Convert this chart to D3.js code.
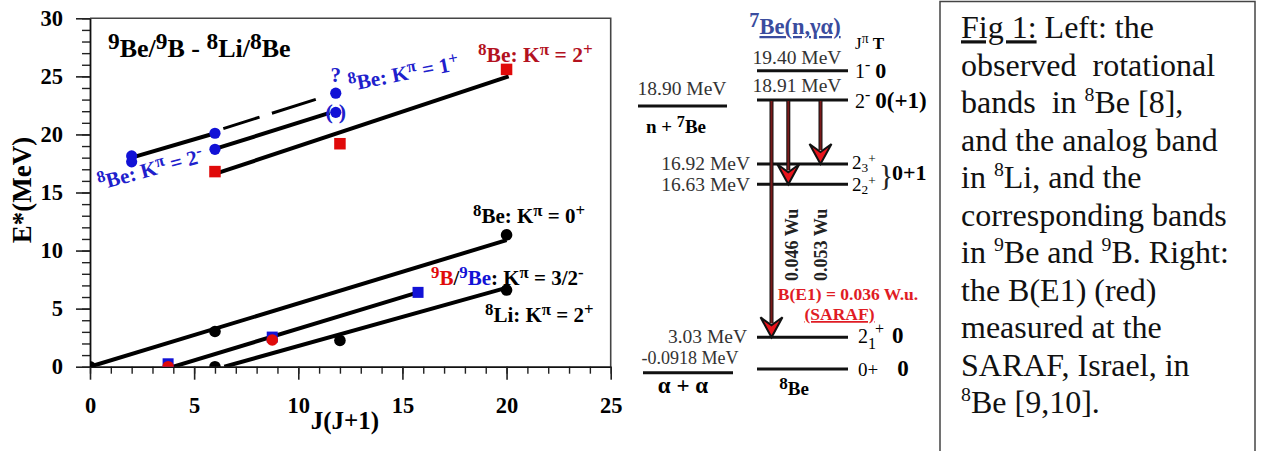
<!DOCTYPE html>
<html><head><meta charset="utf-8">
<script src="https://cdn.jsdelivr.net/npm/d3@7"></script>
<style>
body{margin:0;background:#fff;}
svg{display:block;}
text{font-family:"Liberation Serif","Times New Roman",serif;white-space:pre;}
</style></head><body>
<svg id="c" width="1261" height="451"></svg>
<script>
// ================= DATA =================
// Left panel: x = J(J+1), y = E* (MeV)
const xTicks = [0,5,10,15,20,25];
const yTicks = [0,5,10,15,20,25,30];
const be8K0Points = [[0,0],[6,3.03],[20,11.35]];
const be8K0Line   = [[0,0],[20,10.9]];
const li8K2Points = [[6,0],[12,2.26],[20,6.6]];
const li8K2Line   = [[6.45,0],[19.9,6.75]];
const be9Points   = [[3.75,0.25],[8.75,2.55],[15.75,6.4]];
const b9Points    = [[3.75,0],[8.75,2.3]];
const k32Line     = [[4.0,0],[15.75,6.4]];
const be8K2mPoints= [[2,18.15],[2,17.64],[6,20.1],[6,18.72]];
const k2mLine     = [[2,18.0],[6,20.1]];
const k1pDashed   = [[6.4,20.5],[10.9,23.05]];
const k1pLine     = [[6,18.75],[11.5,21.85]];
const k1pQuestion = [[11.8,23.55]];
const k1pParen    = [[11.8,21.9]];
const be8K2pPoints= [[6,16.8],[12,19.2],[20,25.6]];
const k2pLine     = [[6,16.6],[20.1,25.0]];

// Right panel: 8Be level scheme (MeV)
const levelEnergies = [19.40, 18.91, 16.92, 16.63, 3.03, 0];
const levelLabels   = ["19.40 MeV","18.91 MeV","16.92 MeV","16.63 MeV","3.03 MeV",""];
const thresholdEnergies = [18.90, -0.0918];
const thresholdLabels   = ["18.90 MeV","-0.0918 MeV"];
const transitionFrom = [18.91, 18.91, 18.91];
const transitionTo   = [3.03, 16.63, 16.92];
const strengthLabels = ["0.046 Wu","0.053 Wu"];
const be1Label = "B(E1) = 0.036 W.u.";

// ================= LAYOUT / STYLE =================
const BLUE = "#1212d6", BLUE_T = "#2020cc", RED = "#e00a0a", DRED = "#b3121f";
const svg = d3.select("#c");

function rich(parent, x, y, segs, o={}) {
  const base = o.fs || 20;
  const t = parent.append("text").attr("x",x).attr("y",y)
    .attr("font-size",base).attr("font-weight",o.fw||"normal").attr("fill",o.fill||"#000");
  if (o.anchor) t.attr("text-anchor",o.anchor);
  if (o.rot!=null) t.attr("transform",`rotate(${o.rot},${x},${y})`);
  let cur = 0;
  segs.forEach(s=>{
    if (typeof s === "string") s = {t:s};
    const fs = s.fs || ((s.sup||s.sub) ? base*(o.supScale||0.75) : base);
    const shift = s.sup ? -base*(o.supRaise||0.36) : s.sub ? base*(o.subDrop||0.25) : 0;
    const sp = t.append("tspan").text(s.t).attr("dy", shift-cur).attr("font-size",fs);
    if (s.dx!=null) sp.attr("dx",s.dx);
    if (s.fill) sp.attr("fill",s.fill);
    if (s.fw) sp.attr("font-weight",s.fw);
    if (s.u) sp.attr("text-decoration","underline");
    cur = shift;
  });
  return t;
}

// ---------- Left panel ----------
const x = d3.scaleLinear().domain([0,25]).range([90,610.7]);
const y = d3.scaleLinear().domain([0,30]).range([366.7,18.3]);

svg.append("path").attr("d",`M${x(0)},${y(30)}H${x(25)}V${y(0)}`)
  .attr("fill","none").attr("stroke","#444").attr("stroke-width",1.6);

svg.append("g").attr("transform",`translate(0,${y(0)})`)
  .call(d3.axisBottom(x).tickValues(d3.range(0,26)).tickSize(7).tickFormat("").tickSizeOuter(0))
  .call(g=>g.select(".domain").remove())
  .call(g=>g.selectAll("line").attr("stroke","#222").attr("stroke-width",1.4));
svg.append("g").attr("transform",`translate(${x(0)},0)`)
  .call(d3.axisLeft(y).tickValues(d3.range(0,31)).tickSize(8).tickFormat("").tickSizeOuter(0))
  .call(g=>g.select(".domain").remove())
  .call(g=>g.selectAll("line").attr("stroke","#222").attr("stroke-width",1.4));
const gx = svg.append("g").attr("transform",`translate(0,${y(0)})`)
  .call(d3.axisBottom(x).tickValues(xTicks).tickSize(13).tickPadding(17).tickSizeOuter(0));
const gy = svg.append("g").attr("transform",`translate(${x(0)},0)`)
  .call(d3.axisLeft(y).tickValues(yTicks).tickSize(14).tickPadding(13).tickSizeOuter(0));
[gx,gy].forEach(g=>{
  g.select(".domain").attr("stroke","#111").attr("stroke-width",1.8);
  g.selectAll("line").attr("stroke","#222").attr("stroke-width",1.6);
  g.selectAll("text").attr("font-family","Liberation Serif, serif").attr("font-size",22.5)
    .attr("font-weight","bold").attr("fill","#000");
});

svg.append("text").attr("x",345).attr("y",429).attr("text-anchor","middle")
  .attr("font-size",25).attr("font-weight","bold").text("J(J+1)");
svg.append("text").attr("transform","translate(31,190) rotate(-90)").attr("text-anchor","middle")
  .attr("font-size",27).attr("font-weight","bold").text("E*(MeV)");

svg.append("clipPath").attr("id","plotclip").append("rect")
  .attr("x",x(0)).attr("y",y(30)).attr("width",x(25)-x(0)).attr("height",y(0)-y(30));
const plot = svg.append("g").attr("clip-path","url(#plotclip)");

const line = d3.line().x(d=>x(d[0])).y(d=>y(d[1]));
[be8K0Line, li8K2Line, k32Line, k2mLine, k1pLine, k2pLine].forEach(l=>{
  plot.append("path").attr("d",line(l)).attr("fill","none").attr("stroke","#000")
    .attr("stroke-width",4);
});
plot.append("path").attr("d",line(k1pDashed)).attr("fill","none").attr("stroke","#000")
  .attr("stroke-width",3).attr("stroke-dasharray","38 13 46 200");

function circles(data, color, r) {
  plot.selectAll(null).data(data).enter().append("circle")
    .attr("cx",d=>x(d[0])).attr("cy",d=>y(d[1])).attr("r",r).attr("fill",color);
}
function squares(data, color, s) {
  plot.selectAll(null).data(data).enter().append("rect")
    .attr("x",d=>x(d[0])-s/2).attr("y",d=>y(d[1])-s/2).attr("width",s).attr("height",s).attr("fill",color);
}
circles(be8K0Points, "#000", 5.8);
circles(li8K2Points, "#000", 5.8);
squares(be9Points, BLUE, 11);
circles(b9Points, RED, 5.8);
circles(be8K2mPoints, BLUE, 5.6);
circles(k1pQuestion, BLUE, 5.6);
circles(k1pParen, BLUE, 5.6);
squares(be8K2pPoints, RED, 11.5);

svg.append("text").attr("x",x(k1pQuestion[0][0])).attr("y",y(k1pQuestion[0][1])-11)
  .attr("text-anchor","middle").attr("font-size",21).attr("font-weight","bold").attr("fill",BLUE_T).text("?");
svg.append("text").attr("x",x(k1pParen[0][0])-3).attr("y",y(k1pParen[0][1])+7)
  .attr("text-anchor","end").attr("font-size",22).attr("font-weight","bold").attr("fill",BLUE_T).text("(");
svg.append("text").attr("x",x(k1pParen[0][0])+3).attr("y",y(k1pParen[0][1])+7)
  .attr("text-anchor","start").attr("font-size",22).attr("font-weight","bold").attr("fill",BLUE_T).text(")");

const bandOpt = {fs:21, fw:"bold", supScale:0.8, supRaise:0.34};
rich(svg,108,57,[{t:"9",sup:1},"Be/",{t:"9",sup:1},"B - ",{t:"8",sup:1},"Li/",{t:"8",sup:1},"Be"],
  {fs:26, fw:"bold", supScale:0.9, supRaise:0.3});
rich(svg,100,190,[{t:"8",sup:1},"Be: K",{t:"π",sup:1}," = 2",{t:"-",sup:1}],
  Object.assign({},bandOpt,{fill:BLUE_T, rot:-15}));
rich(svg,350,91,[{t:"8",sup:1},"Be: K",{t:"π",sup:1}," = 1",{t:"+",sup:1}],
  Object.assign({},bandOpt,{fill:BLUE_T, rot:-11}));
rich(svg,478,62,[{t:"8",sup:1},"Be: K",{t:"π",sup:1}," = 2",{t:"+",sup:1}],
  Object.assign({},bandOpt,{fill:DRED, fs:21.5}));
rich(svg,473,223,[{t:"8",sup:1},"Be: K",{t:"π",sup:1}," = 0",{t:"+",sup:1}], bandOpt);
rich(svg,431,285,[{t:"9",sup:1,fill:RED},{t:"B",fill:RED},"/",{t:"9",sup:1,fill:BLUE},{t:"Be",fill:BLUE},": K",{t:"π",sup:1}," = 3/2",{t:"-",sup:1}], bandOpt);
rich(svg,485,322,[{t:"8",sup:1},"Li: K",{t:"π",sup:1}," = 2",{t:"+",sup:1}], bandOpt);

// ---------- Right panel: level scheme ----------
const ey = d3.scaleLinear()
  .domain([-0.0918, 0, 3.03, 16.63, 16.92, 18.90, 18.91, 19.40])
  .range([372.7, 369, 337.3, 184.3, 164, 106, 100, 70.7]);
const LX0 = 757, LX1 = 848;
svg.append("g").selectAll("line").data(levelEnergies).enter().append("line")
  .attr("x1",LX0).attr("x2",LX1).attr("y1",d=>ey(d)).attr("y2",d=>ey(d))
  .attr("stroke","#111").attr("stroke-width",3);
const lblPos = [{x:797,dy:-7,a:"middle"},{x:797,dy:-8,a:"middle"},{x:750,dy:6,a:"end"},{x:750,dy:7,a:"end"},{x:747,dy:6,a:"end"},{x:0,dy:0,a:"end"}];
levelEnergies.forEach((E,i)=>{
  if(!levelLabels[i]) return;
  svg.append("text").attr("x",lblPos[i].x).attr("y",ey(E)+lblPos[i].dy)
    .attr("text-anchor",lblPos[i].a).attr("font-size",19.5).attr("fill","#333").text(levelLabels[i]);
});
const thrX = [[638,727],[643,733]];
thresholdEnergies.forEach((E,i)=>{
  svg.append("line").attr("x1",thrX[i][0]).attr("x2",thrX[i][1]).attr("y1",ey(E)).attr("y2",ey(E))
    .attr("stroke","#111").attr("stroke-width",3);
});
svg.append("text").attr("x",682).attr("y",ey(18.90)-11).attr("text-anchor","middle")
  .attr("font-size",19.5).attr("fill","#333").text(thresholdLabels[0]);
svg.append("text").attr("x",690).attr("y",ey(-0.0918)-9).attr("text-anchor","middle")
  .attr("font-size",18).attr("fill","#333").text(thresholdLabels[1]);
rich(svg,676,133,["n + ",{t:"7",sup:1},"Be"],{fs:19,fw:"bold",anchor:"middle",supScale:0.85,supRaise:0.3});
svg.append("text").attr("x",683).attr("y",393).attr("text-anchor","middle")
  .attr("font-size",23).attr("font-weight","bold").text("α + α");
rich(svg,794,395,[{t:"8",sup:1},"Be"],{fs:19,fw:"bold",anchor:"middle",supScale:0.9,supRaise:0.3});

rich(svg,795,34,[{t:"7",sup:1},{t:"Be(n,γα)",u:1}],{fs:22.5,fw:"bold",fill:"#3a4c9e",anchor:"middle",supScale:0.9,supRaise:0.3});

// J^pi T labels
rich(svg,855,49,["J",{t:"π",sup:1}," ",{t:"T",fw:"bold"}],{fs:17,supScale:0.8,supRaise:0.35});
rich(svg,855,78,["1",{t:"-",sup:1}," ",{t:"0",fw:"bold",fs:22}],{fs:20,supScale:0.8,supRaise:0.4});
rich(svg,855,108,["2",{t:"-",sup:1}," ",{t:"0(+1)",fw:"bold",fs:23}],{fs:20,supScale:0.8,supRaise:0.4});
const stackOpt = {fs:19,supScale:0.7,supRaise:0.3,subDrop:0.14};
rich(svg,852,169,["2",{t:"3",sub:1},{t:"+",sup:1}],stackOpt);
rich(svg,852,191,["2",{t:"2",sub:1},{t:"+",sup:1}],stackOpt);
svg.append("text").attr("x",879).attr("y",185).attr("font-size",30).attr("fill","#222").text("}");
svg.append("text").attr("x",892).attr("y",180).attr("font-size",22).attr("font-weight","bold").text("0+1");
rich(svg,858,343,["2",{t:"1",sub:1},{t:"+",sup:1,dx:-1},{t:"0",fw:"bold",fs:23,dx:8}],{fs:20,supScale:0.8,supRaise:0.45,subDrop:0.3});
rich(svg,858,376,["0+",{t:"0",fw:"bold",fs:23,dx:19}],{fs:19});

// transitions
const arrowX = [771.5, 788.3, 820.5];
const arrowHead = "M0,0 L-11,-20 L0,-12 L11,-20 Z";
transitionFrom.forEach((f,i)=>{
  const ax = arrowX[i], y0 = ey(f), y1 = ey(transitionTo[i]);
  svg.append("line").attr("x1",ax).attr("x2",ax).attr("y1",y0).attr("y2",y1-14)
    .attr("stroke","#111").attr("stroke-width",4);
  svg.append("line").attr("x1",ax).attr("x2",ax).attr("y1",y0+1).attr("y2",y1-14)
    .attr("stroke","#7a1a1a").attr("stroke-width",2);
  svg.append("path").attr("d",arrowHead).attr("transform",`translate(${ax},${y1})`)
    .attr("fill","#e8141c").attr("stroke","#111").attr("stroke-width",2).attr("stroke-linejoin","miter");
});
const sX = [798, 826.5];
strengthLabels.forEach((s,i)=>{
  svg.append("text").attr("transform",`translate(${sX[i]},281) rotate(-90)`)
    .attr("font-size",18).attr("font-weight","bold").attr("fill","#222").text(s);
});
svg.append("text").attr("x",848).attr("y",300).attr("text-anchor","middle")
  .attr("font-size",17.5).attr("font-weight","bold").attr("fill","#e01c24").text(be1Label);
svg.append("text").attr("x",839.5).attr("y",320).attr("text-anchor","middle")
  .attr("font-size",17.5).attr("font-weight","bold").attr("fill","#e01c24")
  .attr("text-decoration","underline").text("(SARAF)");

// ---------- Caption box ----------
svg.append("rect").attr("x",940).attr("y",1.5).attr("width",315).attr("height",470)
  .attr("fill","none").attr("stroke","#444").attr("stroke-width",1.5);
const captionLines = [
  [{t:"Fig 1:",u:1}," Left: the"],
  ["observed  rotational"],
  ["bands  in ",{t:"8",sup:1},"Be [8],"],
  ["and the analog band"],
  ["in ",{t:"8",sup:1},"Li, and the"],
  ["corresponding bands"],
  ["in ",{t:"9",sup:1},"Be and ",{t:"9",sup:1},"B. Right:"],
  ["the B(E1) (red)"],
  ["measured at the"],
  ["SARAF, Israel, in"],
  [{t:"8",sup:1},"Be [9,10]."]
];
captionLines.forEach((segs,i)=>{
  rich(svg,961,38.3+i*37.47,segs,{fs:32,supScale:0.62,supRaise:0.38,fill:"#111"});
});
</script>
</body></html>
